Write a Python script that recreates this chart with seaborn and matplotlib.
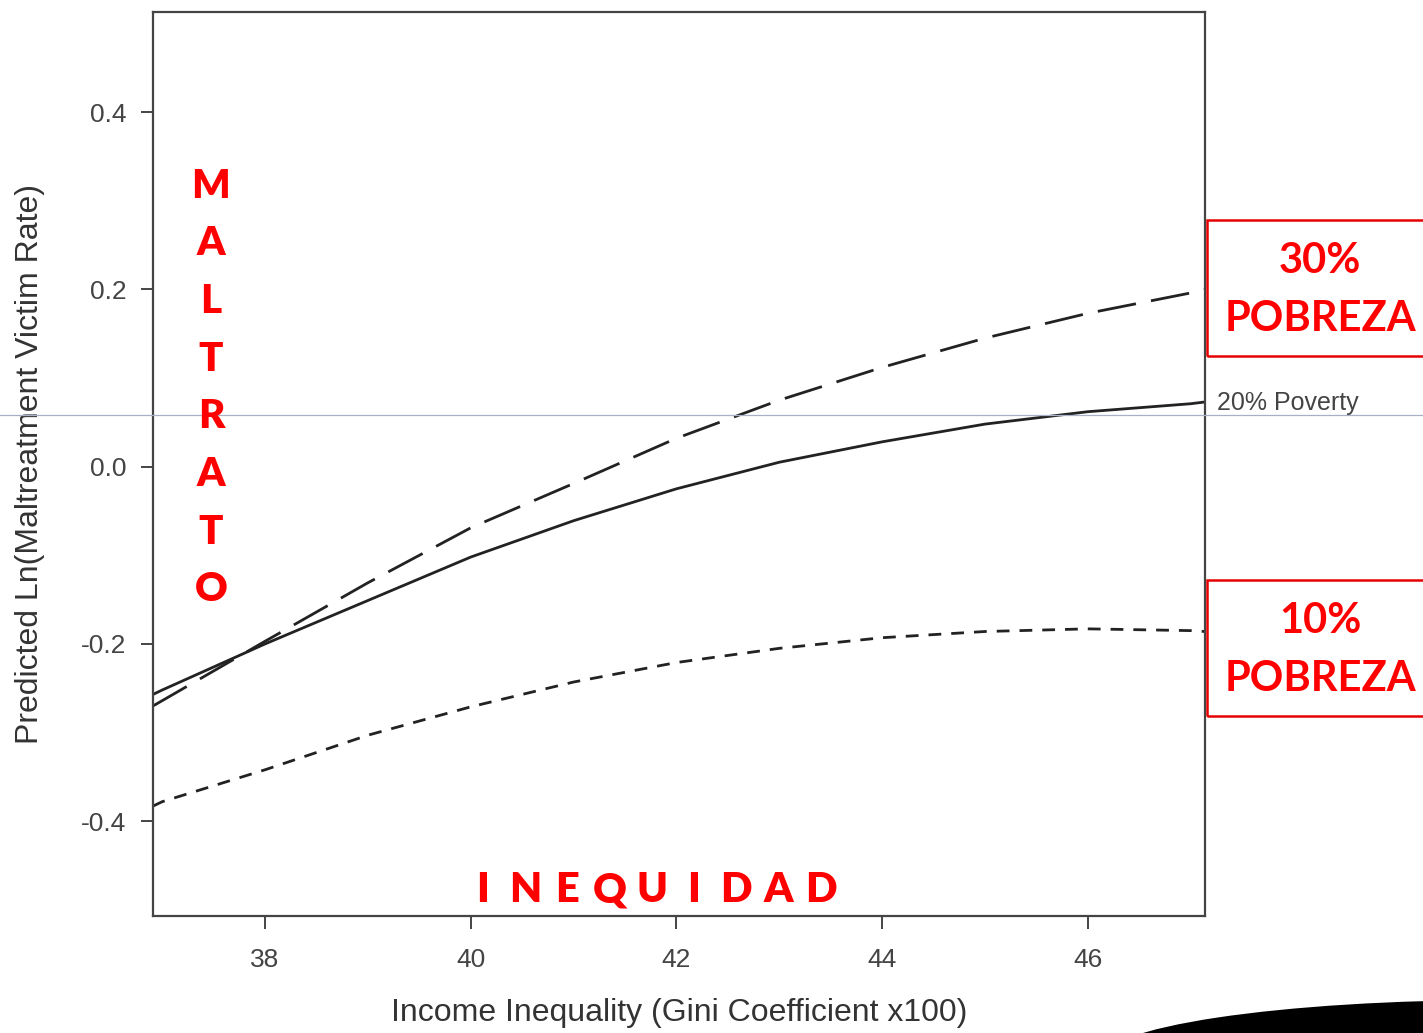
import numpy as np
import pandas as pd
import matplotlib
matplotlib.use("Agg")
import matplotlib.pyplot as plt
import seaborn as sns
from matplotlib.patches import Rectangle, Ellipse
from matplotlib.lines import Line2D

# ---- data ----
gini = [36.91, 37, 38, 39, 40, 41, 42, 43, 44, 45, 46, 47, 47.14]
pov20 = [-0.257, -0.252, -0.200, -0.151, -0.102, -0.061, -0.025, 0.005, 0.028, 0.048, 0.062, 0.071, 0.073]
pov30 = [-0.270, -0.264, -0.197, -0.131, -0.069, -0.019, 0.032, 0.075, 0.112, 0.145, 0.173, 0.196, 0.200]
pov10 = [-0.383, -0.378, -0.342, -0.303, -0.271, -0.243, -0.221, -0.205, -0.193, -0.186, -0.183, -0.185, -0.186]
series_names = ["30% Poverty", "20% Poverty", "10% Poverty"]
xticks = [38, 40, 42, 44, 46]
yticks = [-0.4, -0.2, 0.0, 0.2, 0.4]

df = pd.concat([
    pd.DataFrame({"gini": gini, "pred": pov30, "series": series_names[0]}),
    pd.DataFrame({"gini": gini, "pred": pov20, "series": series_names[1]}),
    pd.DataFrame({"gini": gini, "pred": pov10, "series": series_names[2]}),
])

sns.set_style("white")
plt.rcParams["font.family"] = ["Liberation Sans", "DejaVu Sans"]

W, H = 1423, 1033
fig = plt.figure(figsize=(W / 100, H / 100), dpi=100)
ax = fig.add_axes([153 / W, 1 - 916 / H, (1205 - 153) / W, (916 - 12) / H])

lw = 2.0
sns.lineplot(
    data=df, x="gini", y="pred", hue="series", style="series",
    palette={series_names[0]: "#222222", series_names[1]: "#222222", series_names[2]: "#222222"},
    dashes={series_names[0]: (14, 5.5), series_names[1]: "", series_names[2]: (4.6, 3.6)},
    linewidth=lw, legend=False, ax=ax, sort=False,
)

ax.set_xlim(36.91, 47.14)
ax.set_ylim(-0.507, 0.513)
ax.set_xticks(xticks)
ax.set_xticklabels([str(t) for t in xticks])
ax.set_yticks(yticks)
ax.set_yticklabels(["-0.4", "-0.2", "0.0", "0.2", "0.4"])
for s in ax.spines.values():
    s.set_visible(True)
    s.set_color("#444444")
    s.set_linewidth(1.6)
ax.tick_params(axis="both", direction="out", length=9, width=1.4, color="#444444",
               labelsize=19, labelcolor="#444444", bottom=True, left=True)
ax.tick_params(axis="x", pad=14)
ax.tick_params(axis="y", pad=10)

ax.set_xlabel("Income Inequality (Gini Coefficient x100)", fontsize=23, color="#333333")
ax.set_ylabel("Predicted Ln(Maltreatment Victim Rate)", fontsize=23, color="#333333")
ax.xaxis.set_label_coords(0.5, (916 - 1013) / 904)
ax.xaxis.label.set_va("center")
ax.yaxis.set_label_coords((30 - 153) / 1052, 0.5)
ax.yaxis.label.set_va("center")

red = "#ff0000"
redfont = ["Lato", "DejaVu Sans"]

# vertical MALTRATO
for i, ch in enumerate("MALTRATO"):
    fig.text(211 / W, 1 - (186 + i * 57.7) / H, ch, color=red, fontsize=29,
             fontweight="heavy", family=redfont, ha="center", va="center")

# INEQUIDAD along the bottom
for i, ch in enumerate("INEQUIDAD"):
    fig.text((483 + i * 42.2) / W, 1 - 890 / H, ch, color=red, fontsize=30,
             fontweight="heavy", family=redfont, ha="center", va="center")

# red boxes on the right
for top, pct in [(220, "30%"), (580, "10%")]:
    fig.add_artist(Rectangle((1207 / W, 1 - (top + 136) / H), 0.2, 136 / H,
                             transform=fig.transFigure, fill=False,
                             edgecolor="#e60000", linewidth=1.8, clip_on=False))
    fig.text(1320 / W, 1 - (top + 41) / H, pct, color=red, fontsize=30,
             fontweight="bold", family=redfont, ha="center", va="center")
    fig.text(1320 / W, 1 - (top + 99) / H, "POBREZA", color=red, fontsize=30,
             fontweight="bold", family=redfont, ha="center", va="center")

# line label
fig.text(1217 / W, 1 - 403 / H, "20% Poverty", color="#444444", fontsize=18,
         ha="left", va="center")

# thin guide line across the figure
fig.add_artist(Line2D([0, 1], [1 - 415 / H] * 2, transform=fig.transFigure,
                      color="#a9b0c6", linewidth=0.9))

# black shape in the bottom-right corner
fig.add_artist(Ellipse((1500 / W, 1 - 1060 / H), 800 / W, 120 / H,
                       transform=fig.transFigure, facecolor="black",
                       edgecolor="none", clip_on=False))

fig.savefig("out.png", dpi=100)
